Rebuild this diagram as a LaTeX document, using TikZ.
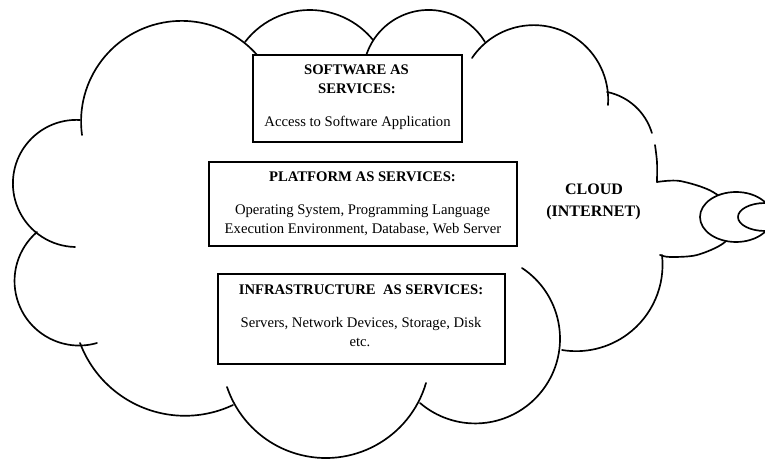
\documentclass[tikz,border=0pt]{standalone}
\usepackage{fontspec}
\setmainfont{Liberation Serif}
% arc of the circle through three points (pixel coordinates), from the first to the last
\newcommand\arcthru[6]{%
  \pgfmathsetmacro\qAx{#1/100}\pgfmathsetmacro\qAy{#2/100}%
  \pgfmathsetmacro\qMx{#3/100}\pgfmathsetmacro\qMy{#4/100}%
  \pgfmathsetmacro\qBx{#5/100}\pgfmathsetmacro\qBy{#6/100}%
  \pgfmathsetmacro\qD{2*(\qAx*(\qMy-\qBy)+\qMx*(\qBy-\qAy)+\qBx*(\qAy-\qMy))}%
  \pgfmathsetmacro\qSA{\qAx*\qAx+\qAy*\qAy}%
  \pgfmathsetmacro\qSM{\qMx*\qMx+\qMy*\qMy}%
  \pgfmathsetmacro\qSB{\qBx*\qBx+\qBy*\qBy}%
  \pgfmathsetmacro\qUx{(\qSA*(\qMy-\qBy)+\qSM*(\qBy-\qAy)+\qSB*(\qAy-\qMy))/\qD}%
  \pgfmathsetmacro\qUy{(\qSA*(\qBx-\qMx)+\qSM*(\qAx-\qBx)+\qSB*(\qMx-\qAx))/\qD}%
  \pgfmathsetmacro\qR{100*veclen(\qAx-\qUx,\qAy-\qUy)}%
  \pgfmathsetmacro\qtA{atan2(\qAy-\qUy,\qAx-\qUx)}%
  \pgfmathsetmacro\qtM{atan2(\qMy-\qUy,\qMx-\qUx)}%
  \pgfmathsetmacro\qtB{atan2(\qBy-\qUy,\qBx-\qUx)}%
  \pgfmathsetmacro\qdM{Mod(\qtM-\qtA,360)}%
  \pgfmathsetmacro\qdB{Mod(\qtB-\qtA,360)}%
  \pgfmathsetmacro\qtE{\qdM<\qdB ? \qtA+\qdB : \qtA+\qdB-360}%
  \draw[cloudline] (#1,#2) arc[start angle=\qtA, end angle=\qtE, radius=\qR];%
}
\begin{document}
\begin{tikzpicture}[x=0.75pt,y=-0.75pt,
  cloudline/.style={line width=1.25pt, line cap=round},
  svcbox/.style={draw, line width=1.45pt, fill=white, inner sep=0pt},
  head/.style={font=\fontsize{11}{14}\selectfont\bfseries, anchor=base, inner sep=0pt},
  body/.style={font=\fontsize{11}{14}\selectfont, anchor=base, inner sep=0pt},
  cloudlabel/.style={font=\fontsize{12}{14}\selectfont\bfseries, anchor=base, inner sep=0pt},
]
\useasboundingbox (0,0) rectangle (765,459);
\begin{scope}
\clip (0,0) rectangle (765,459);
% cloud outline, bump by bump
\arcthru{82}{135}{150}{26}{258}{56}
\arcthru{245}{42}{310}{10}{373}{40}
\arcthru{366}{56}{427}{10}{485}{42}
\arcthru{472}{58}{567}{33}{608}{105}
\arcthru{607}{92}{627}{100}{652}{133}
\draw[cloudline] plot[smooth] coordinates {(655,145) (657,162) (657,182)};
\draw[cloudline] plot[smooth] coordinates {(657,182) (680,181) (713,192) (740,217) (725,242) (697,255) (670,257) (660,255)};
\arcthru{662}{255}{640}{323}{562}{350}
\arcthru{522}{268}{560}{340}{420}{403}
\arcthru{426}{383}{327}{458}{227}{387}
\arcthru{233}{405}{133}{403}{80}{343}
\arcthru{97}{343}{20}{307}{37}{232}
\arcthru{80}{120}{13}{180}{75}{247}
% thought bubbles
\draw[cloudline, fill=white] (736,217) ellipse [x radius=36, y radius=25];
\draw[cloudline, fill=white] (765,217) ellipse [x radius=27, y radius=14];
\end{scope}
% service boxes
\node[svcbox, minimum width=156.75pt, minimum height=65.25pt] (saas) at (357.5,98.5) {};
\node[svcbox, minimum width=231pt, minimum height=63pt] (paas) at (363,204) {};
\node[svcbox, minimum width=215.25pt, minimum height=67.5pt] (iaas) at (361.5,319) {};
% texts
\node[head] (saas1) at (356.5,75) {SOFTWARE AS};
\node[head] (saas2) at (357,94) {SERVICES:};
\node[body] (saas3) at (357.5,127) {Access to Software Application};
\node[head] (paas1) at (362.5,182) {PLATFORM AS SERVICES:};
\node[body] (paas2) at (362.5,215) {Operating System, Programming Language};
\node[body] (paas3) at (363,234) {Execution Environment, Database, Web Server};
\node[head] (iaas1) at (361,295) {INFRASTRUCTURE\ \ AS SERVICES:};
\node[body] (iaas2) at (361,328) {Servers, Network Devices, Storage, Disk};
\node[body] (iaas3) at (360,347) {etc.};
\node[cloudlabel] (cl1) at (594,195) {CLOUD};
\node[cloudlabel] (cl2) at (593.5,217) {(INTERNET)};
\end{tikzpicture}
\end{document}
